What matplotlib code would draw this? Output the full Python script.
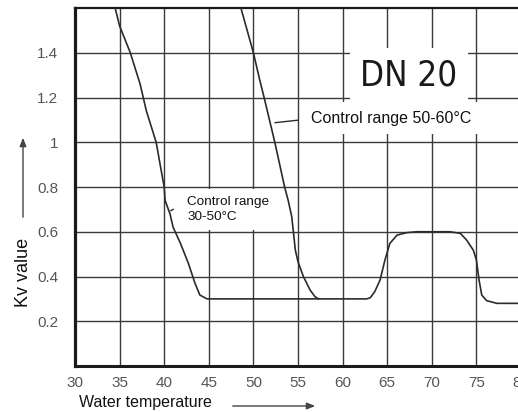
import matplotlib
matplotlib.use("Agg")
import matplotlib.pyplot as plt

plt.rcParams['font.family'] = ['Liberation Sans', 'DejaVu Sans']

# ---- data ----
temp_a = [34.5, 35.0, 36.2, 37.3, 38.0, 39.1, 39.5, 40.0, 40.1, 40.65, 41.0, 41.8, 42.7, 43.45, 44.0, 44.8, 50.0, 57.3]
kv_a = [1.60, 1.52, 1.40, 1.26, 1.14, 1.00, 0.91, 0.80, 0.74, 0.68, 0.62, 0.55, 0.46, 0.37, 0.317, 0.30, 0.30, 0.30]

temp_b = [48.6, 50.0, 50.7, 51.2, 52.4, 53.5, 53.9, 54.3, 54.5, 54.7, 55.0, 55.6, 56.35, 56.9, 57.3,
          62.7, 63.1, 63.6, 64.2, 64.75, 65.3, 66.1, 67.2, 68.3, 72.0, 73.2, 73.9, 74.65, 75.0, 75.3,
          75.6, 76.15, 77.3, 80.0]
kv_b = [1.60, 1.40, 1.28, 1.20, 1.00, 0.80, 0.74, 0.667, 0.593, 0.518, 0.466, 0.40, 0.34, 0.31, 0.30,
        0.30, 0.305, 0.332, 0.384, 0.474, 0.548, 0.585, 0.596, 0.60, 0.60, 0.593, 0.563, 0.518, 0.474, 0.384,
        0.317, 0.292, 0.28, 0.28]

x_ticks = [30, 35, 40, 45, 50, 55, 60, 65, 70, 75, 80]
y_ticks = [0.2, 0.4, 0.6, 0.8, 1.0, 1.2, 1.4]
y_tick_labels = ["0.2", "0.4", "0.6", "0.8", "1", "1.2", "1.4"]

title_text = "DN 20"
label_hi = "Control range 50-60°C"
label_lo = "Control range\n30-50°C"

W, H = 518, 412
fig = plt.figure(figsize=(W / 100, H / 100), dpi=100)
ax = fig.add_axes([75 / W, 1 - 366 / H, (521 - 75) / W, (366 - 8) / H])

ax.set_xlim(30, 80)
ax.set_ylim(0, 1.6)
ax.set_xticks(x_ticks)
ax.set_yticks(y_ticks)
ax.set_yticklabels(y_tick_labels)
ax.tick_params(axis='both', length=0, labelsize=11, labelcolor='#555555')
ax.tick_params(axis='x', pad=7)
ax.tick_params(axis='y', pad=12)
ax.grid(True, color='#3a3a3a', linewidth=1.0)
ax.set_axisbelow(True)

for side, lw in [('left', 2.3), ('bottom', 2.2), ('top', 1.6)]:
    ax.spines[side].set_linewidth(lw)
    ax.spines[side].set_color('#1a1a1a')
ax.spines['right'].set_visible(False)

ax.plot(temp_a, kv_a, color='#2b2b2b', linewidth=1.2, zorder=3)
ax.plot(temp_b, kv_b, color='#2b2b2b', linewidth=1.2, zorder=3)

# annotations
ax.text(67.45, 1.30, title_text, fontsize=25, ha='center', va='center',
        family='DejaVu Sans', stretch='condensed', color='#1a1a1a',
        bbox=dict(boxstyle='square,pad=0.3', fc='white', ec='none'), zorder=5)

ax.text(65.5, 1.108, label_hi, fontsize=11.5, ha='center', va='center', color='#111111',
        bbox=dict(boxstyle='square,pad=0.55', fc='white', ec='none'), zorder=5)
ax.annotate('', xy=(52.1, 1.086), xytext=(55.3, 1.10),
            arrowprops=dict(arrowstyle='-', color='#2b2b2b', lw=1.0), zorder=6)

ax.text(42.6, 0.70, label_lo, fontsize=9.7, ha='left', va='center', color='#111111',
        linespacing=1.35,
        bbox=dict(boxstyle='square,pad=0.5', fc='white', ec='none'), zorder=5)
ax.annotate('', xy=(40.45, 0.688), xytext=(41.3, 0.706),
            arrowprops=dict(arrowstyle='-', color='#2b2b2b', lw=1.0), zorder=6)

# axis labels with arrows (figure coords)
fig.text(145 / W, 1 - 403 / H, "Water temperature", fontsize=11.5, ha='center', va='center', color='#111111')
fig.text(23 / W, 1 - 272 / H, "Kv value", fontsize=13, ha='center', va='center', rotation=90, color='#111111')
fig.add_artist(matplotlib.patches.FancyArrowPatch((230 / W, 1 - 406 / H), (318 / W, 1 - 406 / H),
               transform=fig.transFigure, arrowstyle='-|>,head_length=5,head_width=2',
               color='#444444', lw=1.0, mutation_scale=1))
fig.add_artist(matplotlib.patches.FancyArrowPatch((23 / W, 1 - 220 / H), (23 / W, 1 - 135 / H),
               transform=fig.transFigure, arrowstyle='-|>,head_length=5,head_width=2',
               color='#444444', lw=1.0, mutation_scale=1))

fig.savefig('out.png', dpi=100)
